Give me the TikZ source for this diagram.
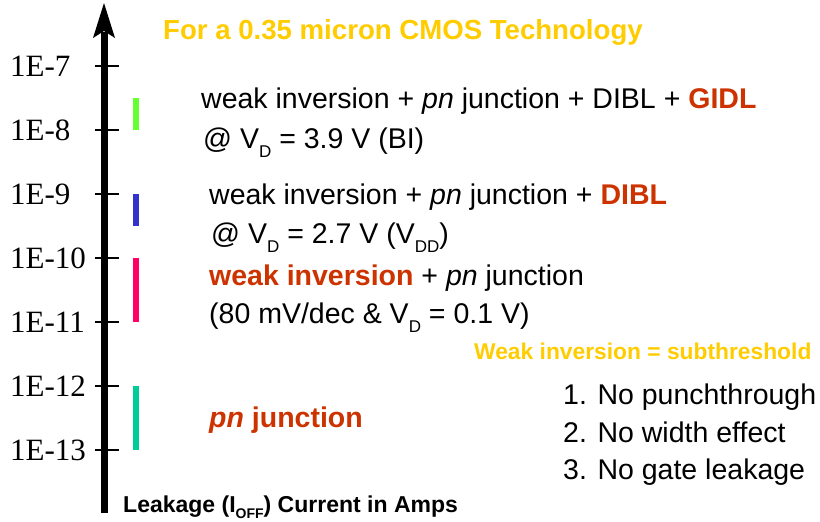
\documentclass[tikz,border=0pt]{standalone}
\usepackage{fontspec}
\setmainfont{Liberation Sans}
\newfontfamily\timesfont{Liberation Serif}
\definecolor{titleyellow}{RGB}{255,204,0}
\definecolor{hotred}{RGB}{204,51,0}
\definecolor{bargreen}{RGB}{102,255,51}
\definecolor{barblue}{RGB}{51,51,204}
\definecolor{barpink}{RGB}{255,0,102}
\definecolor{barteal}{RGB}{0,204,153}
% lowered subscripts for V_D, I_OFF, ...
\newcommand\lowsub[1]{\raisebox{-9pt}{\fontsize{17}{17}\selectfont #1}}
\newcommand\lowsubb[1]{\raisebox{-6pt}{\fontsize{14}{14}\selectfont\bfseries #1}}
\newcommand\hot[1]{\textcolor{hotred}{\bfseries #1}}
\begin{document}
\begin{tikzpicture}[x=1pt,y=-1pt,
  txt/.style={anchor=base west,inner sep=0pt,font=\fontsize{28.5}{34}\selectfont},
  ticklabel/.style={anchor=base west,inner sep=0pt,font=\timesfont\fontsize{31}{34}\selectfont},
  tickmark/.style={line width=2.2pt},
  rangebar/.style={line width=6pt}]
\useasboundingbox (0,0) rectangle (820,522);

% vertical axis with its arrow head
\coordinate (axbot) at (104,513);
\coordinate (axtop) at (104,32);
\draw[line width=7pt] (axbot) -- (axtop);
\fill (104,3) -- (115,38) -- (104,31) -- (93,38) -- cycle;

% decades
\foreach \lab [count=\i from 0] in {1E-7,1E-8,1E-9,1E-10,1E-11,1E-12,1E-13}{
  \pgfmathsetmacro\yy{66+64*\i}
  \coordinate (t\i) at (104,\yy);
  \draw[tickmark] ([xshift=-9pt]t\i) -- ([xshift=15pt]t\i);
  \node[ticklabel] (l\i) at (10,\yy+10) {\lab};
}

% leakage ranges
\draw[rangebar,bargreen] (136,98) -- (136,130);
\draw[rangebar,barblue]  (136,194) -- (136,226);
\draw[rangebar,barpink]  (136,258) -- (136,322);
\draw[rangebar,barteal]  (136,386) -- (136,450);

% heading
\node[txt,font=\fontsize{27.6}{33}\selectfont\bfseries,text=titleyellow] (title) at (163,39)
  {For a 0.35 micron CMOS Technology};

% mechanisms
\node[txt] (gidl) at (201,108) {weak inversion + \textit{pn} junction + DIBL + \hot{GIDL}};
\node[txt] (gidlv) at (203,148) {@ V\lowsub{D} = 3.9 V (BI)};
\node[txt] (dibl) at (209,204) {weak inversion + \textit{pn} junction + \hot{DIBL}};
\node[txt] (diblv) at (211,243) {@ V\lowsub{D} = 2.7 V (V\lowsub{DD})};
\node[txt] (wi) at (209,285) {\hot{weak inversion} + \textit{pn} junction};
\node[txt] (wiv) at (209,323) {(80 mV/dec \& V\lowsub{D} = 0.1 V)};
\node[txt] (pn) at (209,427) {\textcolor{hotred}{\bfseries\itshape pn} \hot{junction}};

% notes
\node[txt,font=\fontsize{22.8}{28}\selectfont\bfseries,text=titleyellow] (sub) at (474,359)
  {Weak inversion = subthreshold};
\node[txt] (n1) at (563,404) {1. No punchthrough};
\node[txt] (n2) at (563,442) {2. No width effect};
\node[txt] (n3) at (563,479) {3. No gate leakage};

% axis caption
\node[txt,font=\fontsize{23}{27}\selectfont\bfseries] (cap) at (123,512)
  {Leakage (I\lowsubb{OFF}) Current in Amps};
\end{tikzpicture}
\end{document}
